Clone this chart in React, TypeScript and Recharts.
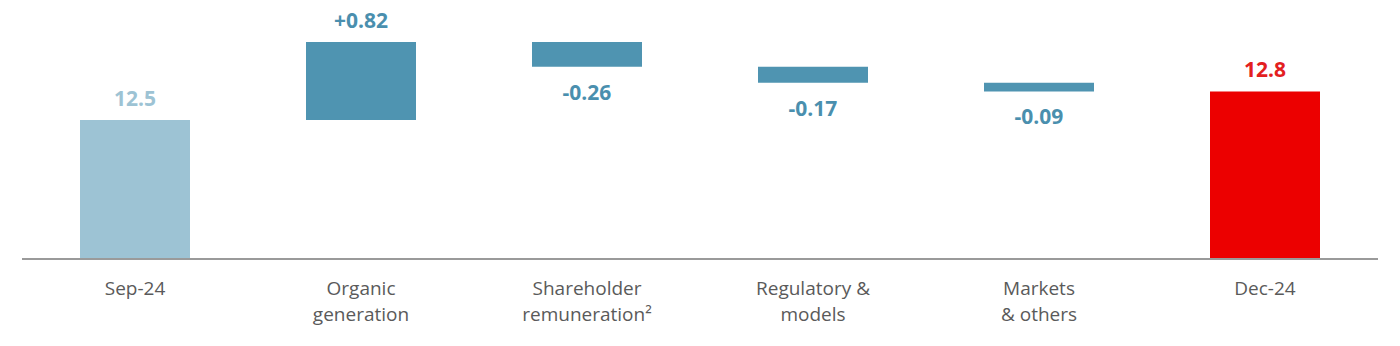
import { BarChart, Bar, XAxis, YAxis, Cell, LabelList } from "recharts";

const categories = [
  "Sep-24",
  "Organic\ngeneration",
  "Shareholder\nremuneration²",
  "Regulatory &\nmodels",
  "Markets\n& others",
  "Dec-24",
];
const startValue = 12.5;
const deltas = [0.82, -0.26, -0.17, -0.09];
const endValue = 12.8;
const valueLabels = ["12.5", "+0.82", "-0.26", "-0.17", "-0.09", "12.8"];

const Y_MIN = 11.04;
const Y_MAX = 13.76;

const BAR_COLORS = ["#9DC3D4", "#4F94B1", "#4F94B1", "#4F94B1", "#4F94B1", "#EC0000"];
const LABEL_COLORS = ["#9DC3D4", "#4A8FAE", "#4A8FAE", "#4A8FAE", "#4A8FAE", "#E3201F"];

// build waterfall ranges [low, high]
const ranges: [number, number][] = [];
ranges.push([Y_MIN, startValue]);
let running = startValue;
deltas.forEach((d) => {
  const next = running + d;
  ranges.push([Math.min(running, next), Math.max(running, next)]);
  running = next;
});
ranges.push([Y_MIN, endValue]);

const data = categories.map((name, i) => ({
  name,
  range: ranges[i],
  label: valueLabels[i],
  negative: i > 0 && i <= deltas.length && deltas[i - 1] < 0,
}));

const ValueLabel = (props: any) => {
  const { x, y, width, height, index } = props;
  const d = data[index];
  if (!d) return null;
  const top = Math.min(y, y + height);
  const bottom = Math.max(y, y + height);
  const ty = d.negative ? bottom + 33 : top - 14;
  return (
    <text
      x={x + width / 2}
      y={ty}
      textAnchor="middle"
      fill={LABEL_COLORS[index]}
      fontFamily="'Open Sans', sans-serif"
      fontWeight={700}
      fontSize={21}
    >
      {d.label}
    </text>
  );
};

const CategoryTick = (props: any) => {
  const { x, y, payload } = props;
  const lines = String(payload.value).split("\n");
  return (
    <text
      x={x}
      y={y}
      textAnchor="middle"
      fill="#5A5A5A"
      fontFamily="'Open Sans', sans-serif"
      fontSize={19}
    >
      {lines.map((line, i) => (
        <tspan key={i} x={x} y={y + 28 + i * 26}>
          {line}
        </tspan>
      ))}
    </text>
  );
};

const App = () => {
  return (
    <div style={{ position: "absolute", left: 0, top: 0, background: "#fff" }}>
      <BarChart
        width={1400}
        height={346}
        data={data}
        margin={{ top: 0, right: 22, left: 22, bottom: 0 }}
      >
        <XAxis
          dataKey="name"
          height={87}
          interval={0}
          tickLine={false}
          axisLine={{ stroke: "#9A9A9A", strokeWidth: 2 }}
          tick={<CategoryTick />}
        />
        <YAxis hide domain={[Y_MIN, Y_MAX]} allowDataOverflow />
        <Bar dataKey="range" barSize={110} isAnimationActive={false}>
          {data.map((_entry, index) => (
            <Cell key={`cell-${index}`} fill={BAR_COLORS[index]} />
          ))}
          <LabelList dataKey="range" content={<ValueLabel />} />
        </Bar>
      </BarChart>
    </div>
  );
};

export default App;
